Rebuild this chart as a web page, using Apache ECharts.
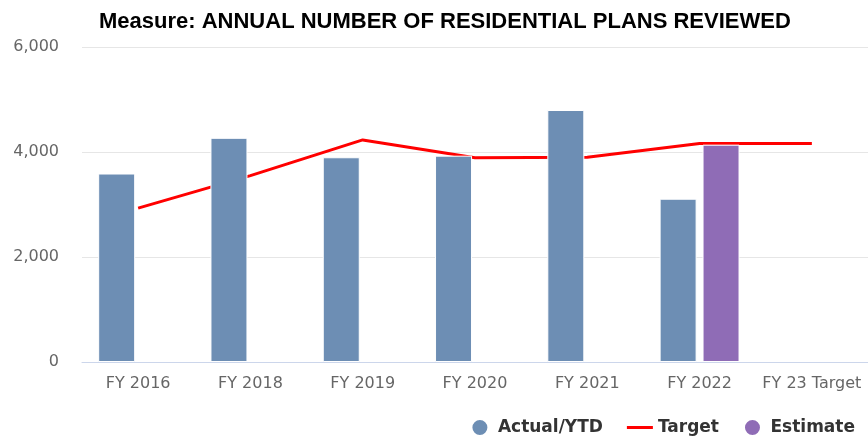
<!DOCTYPE html>
<html>
<head>
<meta charset="utf-8">
<script src="https://cdn.jsdelivr.net/npm/echarts@6/dist/echarts.min.js"></script>
<style>
  html, body { margin: 0; padding: 0; background: #fff; }
  #chart { width: 868px; height: 445px; }
</style>
</head>
<body>
<div id="chart"></div>
<script>
// Fiscal years shown on the category axis
const categories = ['FY 2016', 'FY 2018', 'FY 2019', 'FY 2020', 'FY 2021', 'FY 2022', 'FY 23 Target'];
// Residential plans reviewed (actual / year to date)
const actualValues = [3590, 4270, 3900, 3930, 4800, 3110, null];
// Target per year
const targetValues = [2930, 3550, 4230, 3890, 3900, 4160, 4160];
// Year-end estimate
const estimateValues = [null, null, null, null, null, 4140, null];
// Value axis ticks
const yTicks = [0, 2000, 4000, 6000];

const chart = echarts.init(document.getElementById('chart'));
chart.setOption({
  animation: false,
  title: {
    text: 'Measure: ANNUAL NUMBER OF RESIDENTIAL PLANS REVIEWED',
    left: 94,
    top: 6,
    textStyle: {
      fontFamily: '"Liberation Sans Narrow", "Liberation Sans", sans-serif',
      fontWeight: 'bold',
      fontSize: 22,
      color: '#000'
    }
  },
  legend: {
    right: 8,
    bottom: 3,
    itemWidth: 26,
    itemHeight: 17,
    itemGap: 24,
    textStyle: {
      fontFamily: '"DejaVu Sans", sans-serif',
      fontWeight: 'bold',
      fontSize: 17,
      color: '#333'
    },
    data: [
      { name: 'Actual/YTD', icon: 'circle' },
      { name: 'Target', icon: 'path://M0,0 L26,0 L26,3 L0,3 Z' },
      { name: 'Estimate', icon: 'circle' }
    ]
  },
  grid: { left: 82, right: 0, top: 47, bottom: 83, containLabel: false },
  xAxis: {
    type: 'category',
    data: categories,
    axisLine: { lineStyle: { color: '#ccd6eb', width: 1 } },
    axisTick: { show: false },
    axisLabel: {
      interval: 0,
      margin: 14,
      fontFamily: '"DejaVu Sans", sans-serif',
      fontSize: 16,
      color: '#666'
    }
  },
  yAxis: {
    type: 'value',
    min: yTicks[0],
    max: yTicks[yTicks.length - 1],
    interval: yTicks[1] - yTicks[0],
    axisLine: { show: false },
    axisTick: { show: false },
    splitLine: { lineStyle: { color: '#e6e6e6', width: 1 } },
    axisLabel: {
      margin: 23,
      fontFamily: '"DejaVu Sans", sans-serif',
      fontSize: 16,
      color: '#666',
      formatter: v => v.toLocaleString('en-US')
    }
  },
  series: [
    {
      name: 'Actual/YTD',
      type: 'bar',
      data: actualValues,
      barWidth: 37,
      barGap: '16%',
      z: 3,
      itemStyle: { color: '#6d8eb4', borderColor: '#fff', borderWidth: 1 }
    },
    {
      name: 'Target',
      type: 'line',
      data: targetValues,
      symbol: 'none',
      z: 1,
      lineStyle: { color: '#ff0000', width: 3 },
      itemStyle: { color: '#ff0000' }
    },
    {
      name: 'Estimate',
      type: 'bar',
      data: estimateValues,
      barWidth: 37,
      barGap: '16%',
      z: 3,
      itemStyle: { color: '#8f6cb6', borderColor: '#fff', borderWidth: 1 }
    }
  ]
});
</script>
</body>
</html>
